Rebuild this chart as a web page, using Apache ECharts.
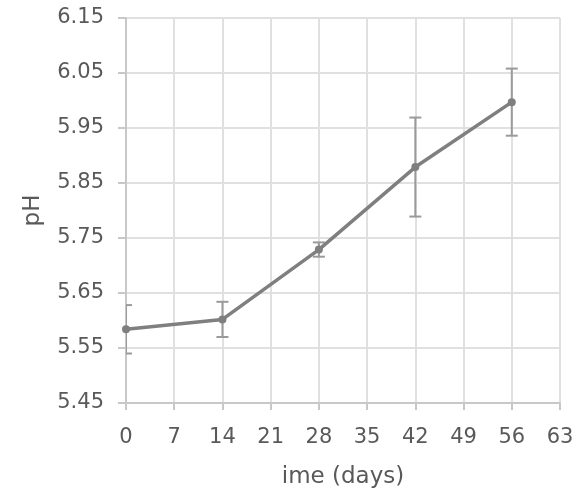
<!DOCTYPE html>
<html>
<head>
<meta charset="utf-8">
<script src="https://cdn.jsdelivr.net/npm/echarts@6/dist/echarts.min.js"></script>
<style>html,body{margin:0;padding:0;background:#fff;}#c{width:584px;height:498px;}</style>
</head>
<body>
<div id="c"></div>
<script>
const days = [0, 14, 28, 42, 56];
const phMean = [5.584, 5.602, 5.729, 5.879, 5.997];
const phErr = [0.044, 0.032, 0.013, 0.090, 0.061];
const xTicks = [0, 7, 14, 21, 28, 35, 42, 49, 56, 63];
const yTicks = ['5.45', '5.55', '5.65', '5.75', '5.85', '5.95', '6.05', '6.15'];

const lineData = days.map((d, i) => [d, phMean[i]]);
const errData = days.map((d, i) => [d, phMean[i] - phErr[i], phMean[i] + phErr[i]]);

const chart = echarts.init(document.getElementById('c'), null, {renderer: 'canvas'});
const font = '"DejaVu Sans", Verdana, sans-serif';
chart.setOption({
  animation: false,
  backgroundColor: '#ffffff',
  grid: {left: 126, right: 24, top: 18, bottom: 95, containLabel: false},
  xAxis: {
    type: 'value', min: xTicks[0], max: xTicks[xTicks.length - 1], interval: 7,
    name: 'ime (days)', nameLocation: 'middle', nameGap: 63,
    nameTextStyle: {fontFamily: font, fontSize: 23, color: '#595959'},
    axisLine: {show: true, lineStyle: {color: '#c8c8c8', width: 2}},
    axisTick: {show: true, length: 7, lineStyle: {color: '#c8c8c8', width: 2}},
    axisLabel: {fontFamily: font, fontSize: 21, color: '#595959', margin: 24},
    splitLine: {show: true, lineStyle: {color: '#e0e0e0', width: 2}}
  },
  yAxis: {
    type: 'value', min: Number(yTicks[0]), max: Number(yTicks[yTicks.length - 1]), interval: 0.1,
    name: 'pH', nameLocation: 'middle', nameGap: 81, nameRotate: 90,
    nameTextStyle: {fontFamily: font, fontSize: 23, color: '#595959'},
    axisLine: {show: true, lineStyle: {color: '#c8c8c8', width: 2}},
    axisTick: {show: true, length: 8, lineStyle: {color: '#c8c8c8', width: 2}},
    axisLabel: {fontFamily: font, fontSize: 21, color: '#595959', margin: 22,
      formatter: v => v.toFixed(2)},
    splitLine: {show: true, lineStyle: {color: '#e0e0e0', width: 2}}
  },
  series: [
    {
      type: 'custom',
      clip: true,
      z: 1,
      data: errData,
      renderItem: function (params, api) {
        const x = api.value(0);
        const lo = api.coord([x, api.value(1)]);
        const hi = api.coord([x, api.value(2)]);
        const hw = 6;
        const style = {stroke: '#9a9a9a', lineWidth: 2};
        return {
          type: 'group',
          children: [
            {type: 'line', shape: {x1: hi[0], y1: hi[1], x2: lo[0], y2: lo[1]}, style: style},
            {type: 'line', shape: {x1: hi[0] - hw, y1: hi[1], x2: hi[0] + hw, y2: hi[1]}, style: style},
            {type: 'line', shape: {x1: lo[0] - hw, y1: lo[1], x2: lo[0] + hw, y2: lo[1]}, style: style}
          ]
        };
      }
    },
    {
      type: 'line',
      z: 2,
      data: lineData,
      symbol: 'circle',
      symbolSize: 8,
      lineStyle: {color: '#7f7f7f', width: 3.5},
      itemStyle: {color: '#7f7f7f'},
      clip: false
    }
  ]
});
</script>
</body>
</html>
